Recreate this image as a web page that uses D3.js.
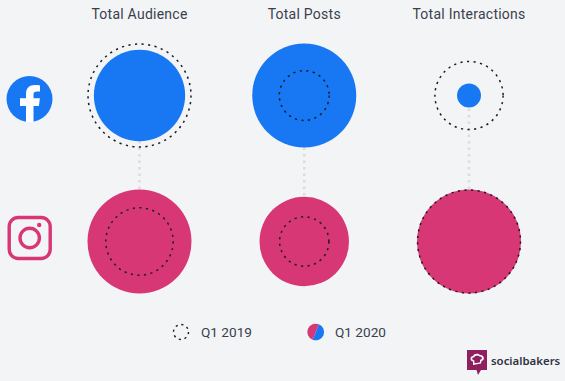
<!DOCTYPE html>
<html>
<head>
<meta charset="utf-8">
<script src="https://cdn.jsdelivr.net/npm/d3@7"></script>
<style>
    html, body { margin: 0; padding: 0; background: #f3f4f6; }
    svg { display: block; font-family: Roboto, sans-serif; }
</style>
</head>
<body>
<div id="chart"></div>
<script>
const metrics = ["Total Audience", "Total Posts", "Total Interactions"];
const platforms = ["Facebook", "Instagram"];
const legend_labels = ["Q1 2019", "Q1 2020"];

// relative sizes, biggest circle = 100
const facebook_q1_2019 = [98, 23, 43];
const facebook_q1_2020 = [77, 100, 5.3];
const instagram_q1_2019 = [42, 22.5, 98];
const instagram_q1_2020 = [100, 74, 100];

const width = 565;
const height = 381;
const blue = "#1877f2";
const pink = "#d83775";
const text_color = "#3a3f4d";

const rows = [
    {platform: "Facebook", before: facebook_q1_2019, after: facebook_q1_2020, color: blue},
    {platform: "Instagram", before: instagram_q1_2019, after: instagram_q1_2020, color: pink}
];

const svg = d3.select("#chart").append("svg")
    .attr("width", width)
    .attr("height", height);

const x_axis = d3.scalePoint().domain(metrics).range([139.5, 469]);
const y_axis = d3.scalePoint().domain(platforms).range([95.5, 241.5]);
const radius = d3.scaleSqrt().domain([0, 100]).range([0, 52]);

// column titles
svg.selectAll(".Title")
    .data(metrics)
    .enter()
    .append("text")
    .attr("class", "Title")
    .attr("x", d => x_axis(d))
    .attr("y", 19)
    .attr("text-anchor", "middle")
    .attr("font-size", 14)
    .attr("letter-spacing", 0.25)
    .attr("fill", text_color)
    .text(d => d);

// dotted connectors, they stay under the circles
svg.selectAll(".Connector")
    .data(metrics)
    .enter()
    .append("line")
    .attr("class", "Connector")
    .attr("x1", d => x_axis(d))
    .attr("x2", d => x_axis(d))
    .attr("y1", y_axis("Facebook"))
    .attr("y2", y_axis("Instagram"))
    .attr("stroke", "#dcdcdf")
    .attr("stroke-width", 2.6)
    .attr("stroke-dasharray", "2.6 3.9");

rows.forEach(row => {
    const group = svg.append("g")
        .attr("transform", `translate(0, ${y_axis(row.platform)})`);

    group.selectAll(".After")
        .data(row.after)
        .enter()
        .append("circle")
        .attr("class", "After")
        .attr("cx", (d, i) => x_axis(metrics[i]))
        .attr("r", d => radius(d))
        .attr("fill", row.color);

    group.selectAll(".Before")
        .data(row.before)
        .enter()
        .append("circle")
        .attr("class", "Before")
        .attr("cx", (d, i) => x_axis(metrics[i]))
        .attr("r", d => radius(d))
        .attr("fill", "none")
        .attr("stroke", "#1c1c22")
        .attr("stroke-width", 1.5)
        .attr("stroke-dasharray", "2.2 4.4");
});

// facebook icon
const facebook_icon = svg.append("g").attr("transform", "translate(29.5, 99)");
facebook_icon.append("circle").attr("r", 23).attr("fill", blue);
facebook_icon.append("path")
    .attr("fill", "#ffffff")
    .attr("d", "M-3.5 23V7H-9.5V-0.8H-3.5V-5C-3.5 -11 0 -14 5 -14C7 -14 9.5 -13.8 10.5 -13.6V-7.5H7.5C5 -7.5 4 -6.5 4 -4.5V-0.8H10.4L9.4 7H4V23Z");

// instagram icon
const instagram_icon = svg.append("g").attr("transform", "translate(29.7, 238)");
instagram_icon.append("rect")
    .attr("x", -20.5)
    .attr("y", -20.5)
    .attr("width", 41)
    .attr("height", 41)
    .attr("rx", 9)
    .attr("fill", "none")
    .attr("stroke", pink)
    .attr("stroke-width", 3.4);
instagram_icon.append("circle")
    .attr("r", 9.7)
    .attr("fill", "none")
    .attr("stroke", pink)
    .attr("stroke-width", 3.4);
instagram_icon.append("circle")
    .attr("cx", 9.5)
    .attr("cy", -13)
    .attr("r", 2.2)
    .attr("fill", pink);

// legend
svg.append("circle")
    .attr("cx", 181)
    .attr("cy", 332)
    .attr("r", 7.5)
    .attr("fill", "none")
    .attr("stroke", "#1c1c22")
    .attr("stroke-width", 1.4)
    .attr("stroke-dasharray", "2.2 3.7");

const legend_pie = svg.append("g").attr("transform", "translate(315.7, 332)");
const half_arc = d3.arc().innerRadius(0).outerRadius(8.3);
legend_pie.append("path")
    .attr("d", half_arc({startAngle: Math.PI / 8, endAngle: Math.PI / 8 + Math.PI}))
    .attr("fill", blue);
legend_pie.append("path")
    .attr("d", half_arc({startAngle: Math.PI / 8 + Math.PI, endAngle: Math.PI / 8 + 2 * Math.PI}))
    .attr("fill", pink);

svg.selectAll(".LegendLabel")
    .data(legend_labels)
    .enter()
    .append("text")
    .attr("class", "LegendLabel")
    .attr("x", (d, i) => i === 0 ? 201 : 335)
    .attr("y", 337)
    .attr("font-size", 13.6)
    .attr("fill", text_color)
    .text(d => d);

// socialbakers logo
const logo = svg.append("g").attr("transform", "translate(467, 350)");
logo.append("path")
    .attr("fill", "#8f1f5f")
    .attr("d", "M0 0H20V20H14L11 25L9.5 20H0Z");
logo.append("path")
    .attr("fill", "#ffffff")
    .attr("fill-rule", "evenodd")
    .attr("d", "M6 15V11.5C2.5 11 3 6 6 6C7 3.5 11 3 13 5C17 4.5 18.5 10 14.5 11L14 13.5Z M7.4 13.2L12.8 12.4L13.2 9.8C15.8 9.6 15.5 6.1 12.5 6.6C11 4.8 8 5.1 7 7.6C4.5 7.3 4.5 10.2 7.4 10.4Z");
logo.append("text")
    .attr("x", 24)
    .attr("y", 14.5)
    .attr("font-family", "'Noto Sans', sans-serif")
    .attr("font-size", 11.4)
    .attr("font-weight", 600)
    .attr("fill", "#2f3340")
    .text("socialbakers");
</script>
</body>
</html>
